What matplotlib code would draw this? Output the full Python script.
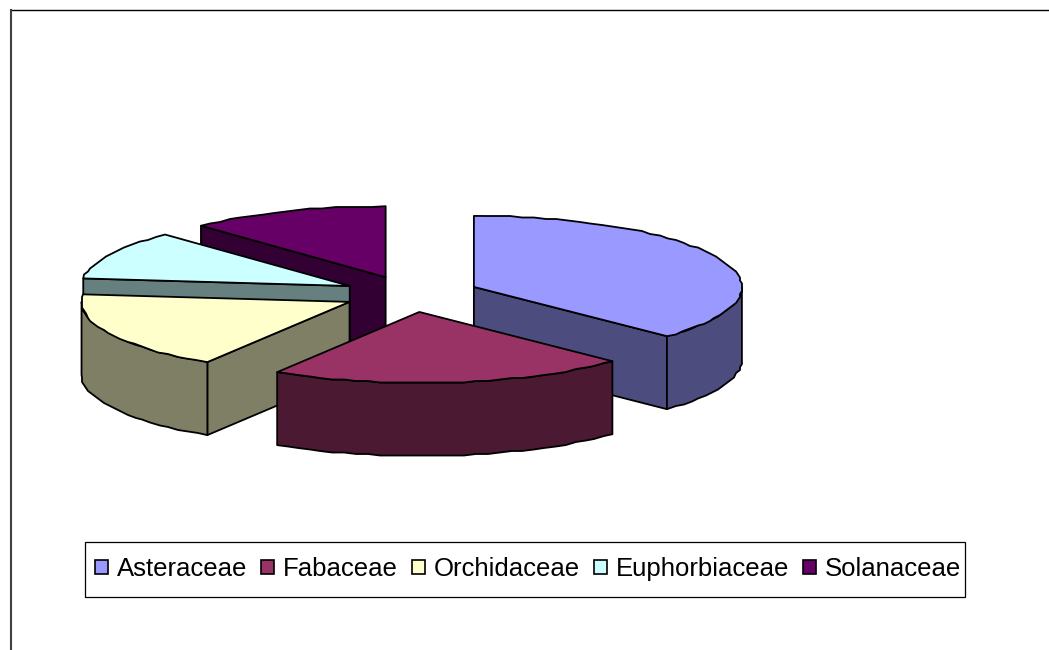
import numpy as np
import matplotlib
matplotlib.use("Agg")
import matplotlib.pyplot as plt
from matplotlib.patches import Patch, Polygon, Rectangle

families = ["Asteraceae", "Fabaceae", "Orchidaceae", "Euphorbiaceae", "Solanaceae"]
shares = [37.2, 21.7, 17.8, 11.2, 12.1]
top_colors = ["#9999FF", "#993366", "#FFFFCC", "#CCFFFF", "#660066"]
wall_colors = ["#4C4C7F", "#4C1933", "#7F7F66", "#667F7F", "#330033"]

# pie geometry in pixels, the axes cover the whole figure
cx, cy = 411, 294
rx, ry = 268, 71
depth = 73
explode = 0.255
lw = 1.3

plt.rcParams["font.family"] = ["Liberation Sans", "DejaVu Sans"]
fig = plt.figure(figsize=(10.49, 6.5), dpi=100)
ax = fig.add_axes([0, 0, 1, 1])
ax.set_xlim(0, 1049)
ax.set_ylim(650, 0)
ax.axis("off")


def point(ang, r=1.0):
    # angle in degrees, clockwise from 12 o'clock
    a = np.radians(ang)
    return r * np.sin(a), r * np.cos(a)


def arc_points(a0, a1, ox, oy):
    # points snapped to a small grid, the original outline is bumpy
    n = max(2, int((a1 - a0) / 2.5))
    angs = np.linspace(a0, a1, n)
    xs = ox + rx * np.sin(np.radians(angs))
    ys = oy - ry * np.cos(np.radians(angs))
    xs[1:-1] = np.round(xs[1:-1] / 2) * 2
    ys[1:-1] = np.round(ys[1:-1] / 1.5) * 1.5
    return np.column_stack([xs, ys])


def shape(pts, color, z):
    ax.add_patch(Polygon(pts, closed=True, facecolor=color, edgecolor="black",
                         linewidth=lw, joinstyle="round", zorder=z))


total = sum(shares)
stops = np.cumsum([0] + shares) / total * 360
slices = {}
for i in range(len(families)):
    a0, a1 = stops[i], stops[i + 1]
    u, v = point((a0 + a1) / 2, explode)
    slices[i] = (a0, a1, cx + rx * u, cy - ry * v)

# back to front
for z, i in enumerate([4, 3, 2, 0, 1]):
    a0, a1, ox, oy = slices[i]
    base = z * 10
    down = np.array([0, depth])
    apex = np.array([ox, oy])

    # radial walls, only the ones facing the viewer
    for ang, normal in [(a0, a0 - 90), (a1, a1 + 90)]:
        if np.cos(np.radians(normal)) < -0.01:
            u, v = point(ang)
            rim = np.array([ox + rx * u, oy - ry * v])
            shape([apex, rim, rim + down, apex + down], wall_colors[i], base + 1)

    # outer wall, front half of the ellipse only
    f0, f1 = max(a0, 90), min(a1, 270)
    if f1 > f0:
        rim = arc_points(f0, f1, ox, oy)
        shape(np.vstack([rim, rim[::-1] + down]), wall_colors[i], base + 2)

    shape(np.vstack([apex, arc_points(a0, a1, ox, oy)]), top_colors[i], base + 3)

# chart frame, only top and left are inside the picture
ax.plot([11, 1049], [10, 10], color="black", lw=1.0, zorder=100)
ax.plot([11, 11], [10, 650], color="#404040", lw=1.5, zorder=100)

# legend
ax.add_patch(Rectangle((85, 542), 880, 55, facecolor="white", edgecolor="black",
                       linewidth=0.9, zorder=90))
handles = [Patch(facecolor=c, edgecolor="black", linewidth=1.2) for c in top_colors]
leg = ax.legend(handles, families, ncol=5, loc="center", frameon=False,
                bbox_to_anchor=(528, 569), bbox_transform=ax.transData,
                fontsize=18.5, handlelength=0.5, handleheight=0.5,
                handletextpad=0.35, columnspacing=0.54, borderpad=0, borderaxespad=0)
leg.set_zorder(95)

fig.savefig("out.png", dpi=100)
